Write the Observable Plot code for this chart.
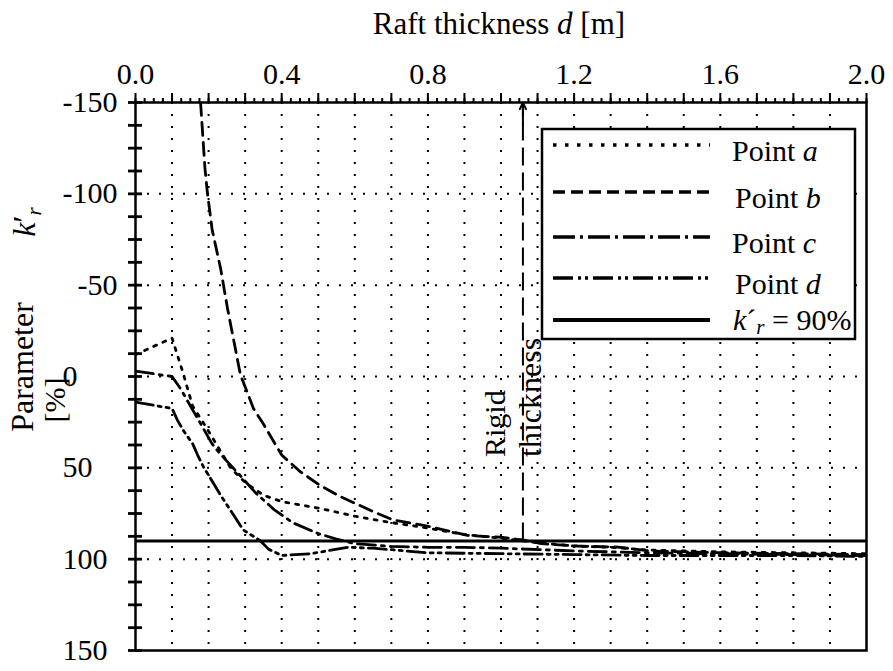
<!DOCTYPE html>
<html><head><meta charset="utf-8">
<script src="https://cdn.jsdelivr.net/npm/d3@7"></script>
<script src="https://cdn.jsdelivr.net/npm/@observablehq/plot@0.6"></script>
<style>
body{margin:0;background:#fff;}
#chart svg{display:block;font-family:"Liberation Serif","Times New Roman",serif;}
</style></head><body><div id="chart"></div>
<script>
// ---------- data ----------
const xTickLabels = [0.0, 0.4, 0.8, 1.2, 1.6, 2.0];
const yTickLabels = [-150, -100, -50, 0, 50, 100, 150];
const xGrid = [0.1,0.2,0.3,0.4,0.5,0.6,0.7,0.8,0.9,1.0,1.1,1.2,1.3,1.4,1.5,1.6,1.7,1.8,1.9];
const yGrid = [-100, -50, 0, 50, 100];
const kTarget = 90;          // k'r = 90 %
const rigidThickness = 1.06; // m

const dA = [0, 0.1, 0.13, 0.156, 0.2, 0.23, 0.26, 0.3, 0.35, 0.4, 0.5, 0.6, 0.7, 0.8, 0.9, 1.0, 1.1, 1.2, 1.3, 1.4, 1.6, 1.8, 2.0];
const kA = [-12, -21, -2, 16, 30, 40, 50, 58, 65, 68.5, 72, 76.5, 80, 83, 86.5, 88.5, 91, 92.8, 93.5, 95, 96, 96.5, 97];

const dB = [0.178, 0.19, 0.197, 0.21, 0.233, 0.252, 0.287, 0.323, 0.35, 0.4, 0.45, 0.5, 0.553, 0.607, 0.662, 0.706, 0.788, 0.834, 0.908, 1.0, 1.06, 1.11, 1.21, 1.32, 1.41, 1.6, 1.8, 2.0];
const kB = [-150, -114, -100, -80, -59, -37, -1, 17.6, 26, 43, 52, 59, 65, 70, 75, 78.6, 81.5, 83.5, 87, 88, 89.5, 91.5, 92.8, 93.4, 95.5, 96.5, 97, 97.5];

const dC = [0, 0.1, 0.123, 0.17, 0.21, 0.23, 0.29, 0.33, 0.38, 0.43, 0.5, 0.55, 0.6, 0.7, 0.8, 0.9, 1.0, 1.2, 1.4, 1.6, 1.8, 2.0];
const kC = [-3, 0, 6.6, 23, 37, 42, 55, 64, 73, 80, 86, 89, 91.5, 93, 93.5, 93.5, 94, 95.5, 96.5, 97, 97.5, 98];

const dD = [0, 0.1, 0.115, 0.131, 0.156, 0.17, 0.186, 0.233, 0.295, 0.342, 0.364, 0.4, 0.48, 0.58, 0.65, 0.8, 1.0, 1.2, 1.4, 1.6, 1.8, 2.0];
const kD = [14, 17.5, 24, 29.6, 36.7, 43, 49.5, 65, 84, 90, 94.5, 98, 97, 93.5, 94, 96.5, 97, 97.5, 98, 98, 98, 98.5];

const seriesNames = ["a", "b", "c", "d"];
const seriesD = [dA, dB, dC, dD];
const seriesK = [kA, kB, kC, kD];
const plotDash = ["3,7", "13,7", "18,6,3,6", "18,5,3,5,3,5"];
const legendDash = ["3.5,8.5", "12,6", "22,5,3,5", "20,5,3,4,3,5"];

// ---------- chart ----------
const W = 893, H = 671;
const rows = seriesNames.flatMap((n, i) => seriesD[i].map((d, j) => ({name: n, d, k: seriesK[i][j]})));

const lineMarks = seriesNames.map((n, i) =>
  Plot.line(rows.filter(r => r.name === n), {x: "d", y: "k", stroke: "black", strokeWidth: 2.8,
    strokeDasharray: plotDash[i], clip: true}));

const plot = Plot.plot({
  width: W, height: H,
  marginLeft: 135, marginRight: 27, marginTop: 102, marginBottom: 21,
  x: {domain: [0, 2], axis: null},
  y: {domain: [-150, 150], reverse: true, axis: null},
  style: {fontFamily: "Liberation Serif", fontSize: "30px", color: "black", background: "white"},
  marks: [
    Plot.ruleX(xGrid, {stroke: "black", strokeWidth: 2, strokeDasharray: "2,10"}),
    Plot.ruleY(yGrid, {stroke: "black", strokeWidth: 2, strokeDasharray: "2,10"}),
    ...lineMarks,
    Plot.ruleY([kTarget], {stroke: "black", strokeWidth: 3}),
    Plot.ruleX([rigidThickness], {y1: kTarget, y2: -150, stroke: "black", strokeWidth: 2, strokeDasharray: "18,7"}),
    Plot.arrow([rigidThickness], {x1: d => d, x2: d => d, y1: -138, y2: -150, stroke: "black", strokeWidth: 2, headLength: 12, headAngle: 50}),
    Plot.frame({stroke: "black", strokeWidth: 2.5}),
    Plot.axisX({anchor: "top", ticks: d3.range(0, 2.0001, 0.025), tickSize: 5, tickFormat: () => "", label: null, strokeWidth: 2}),
    Plot.axisX({anchor: "top", ticks: d3.range(0, 2.0001, 0.1), tickSize: 10, tickFormat: () => "", label: null, strokeWidth: 2}),
    Plot.axisY({anchor: "left", ticks: d3.range(-150, 150.001, 12.5), tickSize: 14, dx: 7, tickFormat: () => "", label: null, strokeWidth: 2.8}),
    Plot.text(xTickLabels, {x: d => d, frameAnchor: "top", lineAnchor: "middle", dy: -28, text: d => d.toFixed(1), fontSize: 30, fill: "black"}),
    Plot.text(yTickLabels.filter(v => v < 0), {y: d => d, frameAnchor: "left", lineAnchor: "middle", dx: -18, textAnchor: "end", text: d => String(d), fontSize: 30, fill: "black"}),
    Plot.text(yTickLabels.filter(v => v >= 0), {y: d => d, frameAnchor: "left", lineAnchor: "middle", dx: -73, textAnchor: "start", text: d => String(d), fontSize: 30, fill: "black"})
  ]
});
document.getElementById("chart").appendChild(plot);

// ---------- annotations ----------
const svg = d3.select(plot);
const xs = plot.scale("x");
const g = svg.append("g").attr("font-family", "Liberation Serif").attr("font-size", 30)
  .attr("fill", "black").attr("text-anchor", "start");

const title = g.append("text").attr("x", 499).attr("y", 34).attr("text-anchor", "middle").attr("font-size", 31);
title.append("tspan").text("Raft thickness ");
title.append("tspan").attr("font-style", "italic").text("d");
title.append("tspan").text(" [m]");

g.append("text").attr("transform", "translate(33,367) rotate(-90)").attr("text-anchor", "middle").attr("font-size", 32).text("Parameter");
const kr = g.append("text").attr("transform", "translate(35,222) rotate(-90)").attr("text-anchor", "middle").attr("font-size", 32);
kr.append("tspan").attr("font-style", "italic").text("k");
kr.append("tspan").text("′");
kr.append("tspan").attr("font-style", "italic").attr("font-size", 21).attr("dy", 6).text("r");
g.append("text").attr("transform", "translate(65,400) rotate(-90)").attr("text-anchor", "middle").text("[%]");

const rx = xs.apply(rigidThickness);
g.append("text").attr("transform", `translate(${rx - 17},457) rotate(-90)`).attr("text-anchor", "start").text("Rigid");
g.append("text").attr("transform", `translate(${rx + 19},457) rotate(-90)`).attr("text-anchor", "start").attr("font-size", 32).text("thickness");

// legend
const lg = g.append("g");
lg.append("rect").attr("x", 542).attr("y", 129).attr("width", 313).attr("height", 210)
  .attr("fill", "white").attr("stroke", "black").attr("stroke-width", 2.5);
const rowY = [145, 192, 237, 278, 320];
const labels = ["Point ", "Point ", "Point ", "Point "];
seriesNames.forEach((n, i) => {
  lg.append("line").attr("x1", 553).attr("x2", 710).attr("y1", rowY[i]).attr("y2", rowY[i])
    .attr("stroke", "black").attr("stroke-width", 3.5).attr("stroke-dasharray", legendDash[i]);
  const t = lg.append("text").attr("x", i % 2 ? 735 : 732).attr("y", rowY[i] + 16).attr("text-anchor", "start");
  t.append("tspan").text(labels[i]);
  t.append("tspan").attr("font-style", "italic").text(n);
});
lg.append("line").attr("x1", 553).attr("x2", 710).attr("y1", rowY[4]).attr("y2", rowY[4])
  .attr("stroke", "black").attr("stroke-width", 4);
const kt = lg.append("text").attr("x", 733).attr("y", rowY[4] + 10).attr("text-anchor", "start");
kt.append("tspan").attr("font-style", "italic").text("k");
kt.append("tspan").text("´");
kt.append("tspan").attr("font-style", "italic").attr("font-size", 21).attr("dy", 4).text("r");
kt.append("tspan").attr("dy", -4).text(" = " + kTarget + "%");
</script></body></html>
